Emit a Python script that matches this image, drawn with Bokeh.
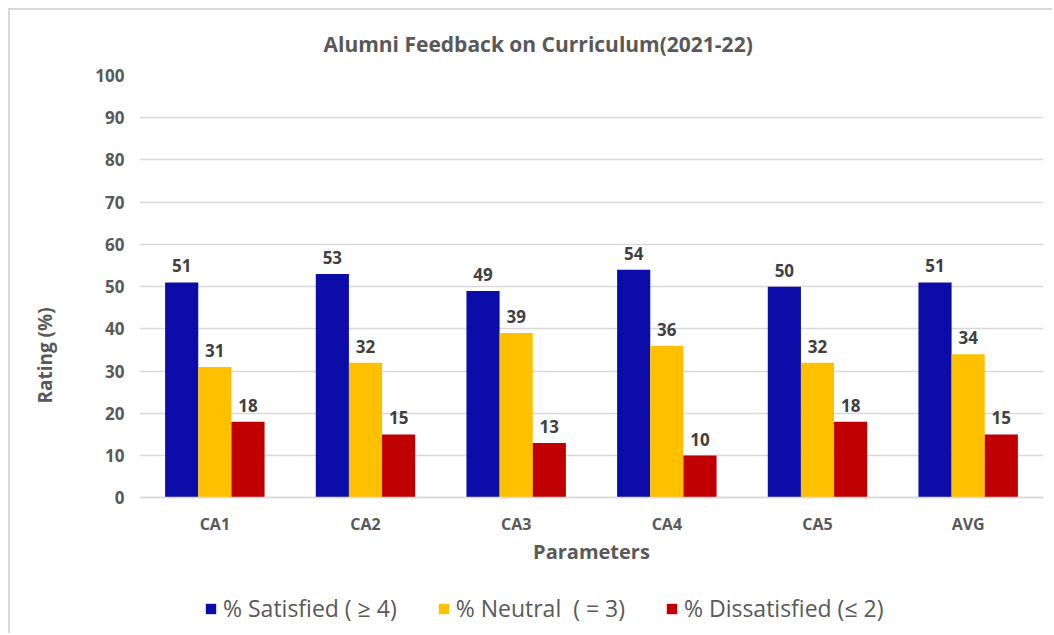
from bokeh.plotting import figure
from bokeh.models import FactorRange, ColumnDataSource, Legend, LegendItem
from bokeh.transform import dodge
from bokeh.embed import file_html
from bokeh.resources import INLINE
from bokeh.core.properties import value

categories = ["CA1", "CA2", "CA3", "CA4", "CA5", "AVG"]
satisfied = [51, 53, 49, 54, 50, 51]
neutral = [31, 32, 39, 36, 32, 34]
dissatisfied = [18, 15, 13, 10, 18, 15]
series_names = ["% Satisfied ( \u2265 4)", "% Neutral  ( = 3)", "% Dissatisfied (\u2264 2)"]
y_ticks = [0, 10, 20, 30, 40, 50, 60, 70, 80, 90, 100]

colors = ["#0C0CA8", "#FFC000", "#C00000"]
FONT = "Open Sans"

src = ColumnDataSource(dict(
    cat=categories,
    s=satisfied, n=neutral, d=dissatisfied,
    s_t=[str(v) for v in satisfied],
    n_t=[str(v) for v in neutral],
    d_t=[str(v) for v in dissatisfied],
))

# frame spans 0..100 over 423px; extra room below 0 holds axis labels and legend
p = figure(x_range=FactorRange(*categories, range_padding=0), y_range=(-32.6, 100),
           width=1044, height=625, output_backend="svg", toolbar_location=None,
           min_border_left=129, min_border_right=11, min_border_top=64, min_border_bottom=0,
           title="Alumni Feedback on Curriculum(2021-22)")
p.styles = {"margin-left": "8px", "margin-top": "8px",
            "border-left": "2px solid #d9d9d9", "border-top": "2px solid #d9d9d9"}

p.title.align = "left"
p.title.text_font = FONT
p.title.text_font_size = "21px"
p.title.text_font_style = "bold"
p.title.text_color = "#595959"
p.title.standoff = 35
p.title.offset = 184

p.outline_line_color = None
p.background_fill_color = "white"
p.border_fill_color = "white"

w = 0.22
keys = ["s", "n", "d"]
offs = [-w, 0, w]
renderers = []
for k, o, c in zip(keys, offs, colors):
    r = p.vbar(x=dodge("cat", o, range=p.x_range), top=k, bottom=0, width=w, source=src,
               fill_color=c, line_color=None)
    renderers.append(r)
    p.text(x=dodge("cat", o, range=p.x_range), y=k, text=k + "_t", source=src,
           text_align="center", text_baseline="bottom", y_offset=-10,
           text_font=value(FONT), text_font_size="17px",
           text_font_style="bold", text_color="#404040")

p.yaxis.ticker = y_ticks
p.yaxis.bounds = (0, 100)
p.yaxis.axis_line_color = None
p.yaxis.major_tick_line_color = None
p.yaxis.major_tick_out = 0
p.yaxis.major_tick_in = 0
p.yaxis.minor_tick_line_color = None
p.yaxis.major_label_standoff = 15
p.yaxis.major_label_text_font = FONT
p.yaxis.major_label_text_font_size = "17px"
p.yaxis.major_label_text_color = "#595959"
p.yaxis.major_label_text_font_style = "bold"
p.yaxis.axis_label = "Rating (%)"
p.yaxis.axis_label_text_font = FONT
p.yaxis.axis_label_text_font_size = "19px"
p.yaxis.axis_label_text_font_style = "bold"
p.yaxis.axis_label_text_color = "#595959"
p.yaxis.axis_label_standoff = 34

p.xaxis.fixed_location = 0
p.xaxis.axis_line_color = "#d9d9d9"
p.xaxis.axis_line_width = 1.5
p.xaxis.major_tick_line_color = None
p.xaxis.major_tick_out = 0
p.xaxis.major_tick_in = 0
p.xaxis.minor_tick_line_color = None
p.xaxis.major_label_standoff = 15
p.xaxis.major_label_text_font = FONT
p.xaxis.major_label_text_font_size = "16px"
p.xaxis.major_label_text_color = "#595959"
p.xaxis.major_label_text_font_style = "bold"
p.xaxis.axis_label = "Parameters"
p.xaxis.axis_label_text_font = FONT
p.xaxis.axis_label_text_font_size = "20px"
p.xaxis.axis_label_text_font_style = "bold"
p.xaxis.axis_label_text_color = "#595959"
p.xaxis.axis_label_standoff = 0

p.xgrid.grid_line_color = None
p.ygrid.grid_line_color = "#d9d9d9"
p.ygrid.grid_line_width = 1.5

legend = Legend(items=[LegendItem(label=n, renderers=[r]) for n, r in zip(series_names, renderers)],
                orientation="horizontal", location=(65, 11))
legend.label_text_font = FONT
legend.label_text_font_size = "23px"
legend.label_text_color = "#595959"
legend.glyph_width = 13
legend.glyph_height = 13
legend.spacing = 40
legend.label_standoff = 6
legend.border_line_color = None
legend.background_fill_alpha = 0
legend.padding = 5
legend.margin = 0
p.add_layout(legend, "center")

open("out.html", "w").write(file_html(p, INLINE))
